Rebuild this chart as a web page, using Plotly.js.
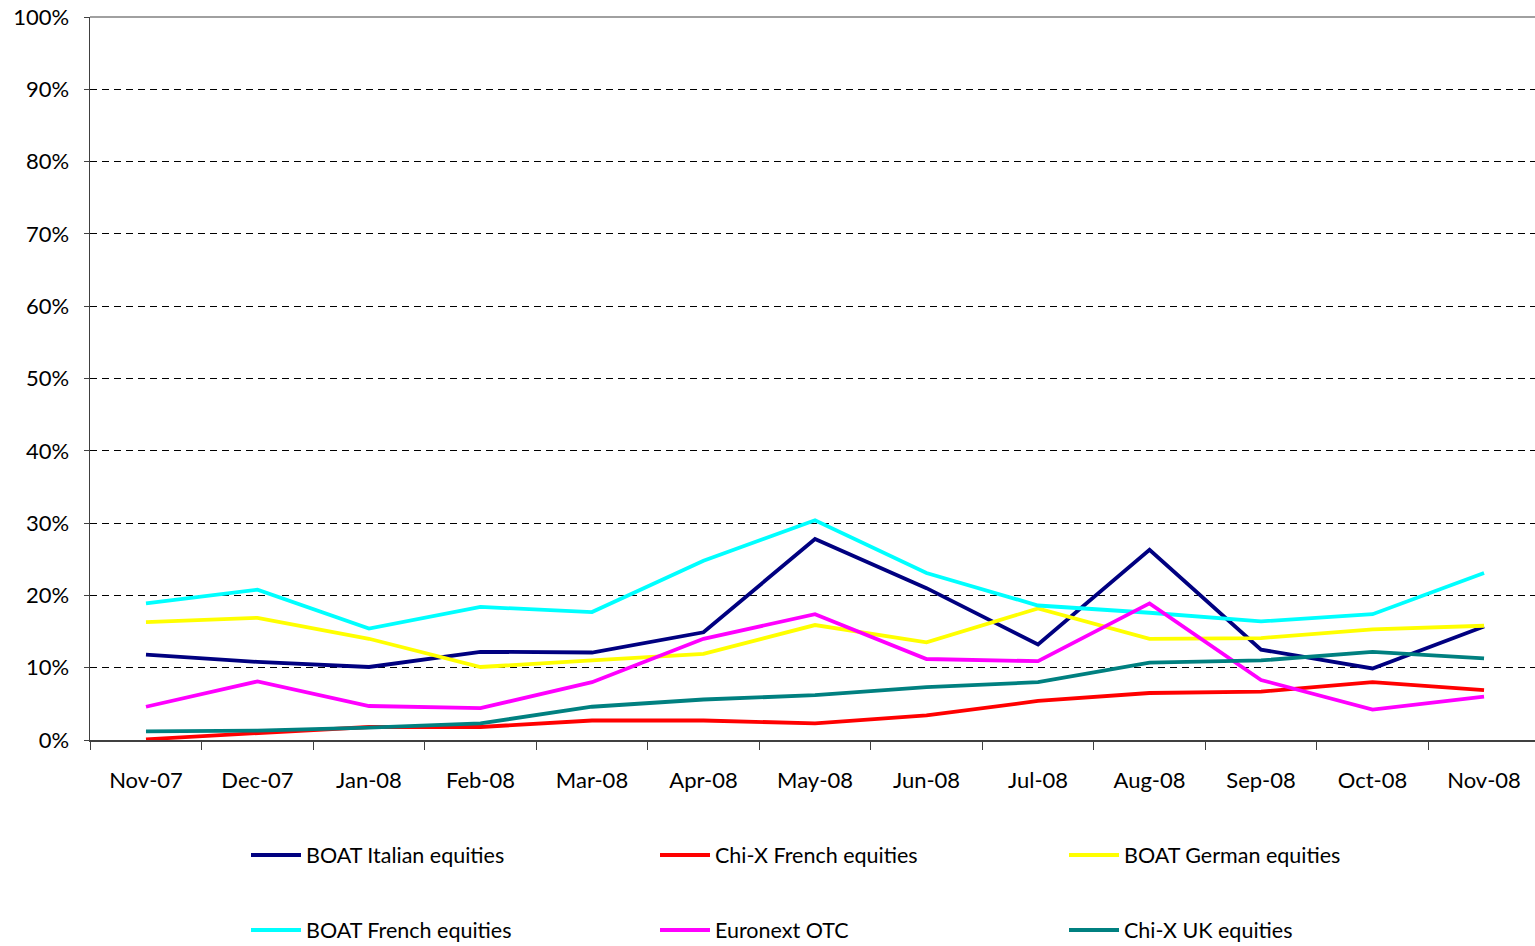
<!DOCTYPE html>
<html>
<head>
<meta charset="utf-8">
<script src="https://cdn.plot.ly/plotly-3.0.1.min.js"></script>
<style>html,body{margin:0;padding:0;background:#fff;}#chart{width:1535px;height:946px;}</style>
</head>
<body>
<div id="chart"></div>
<script>
const months = ["Nov-07","Dec-07","Jan-08","Feb-08","Mar-08","Apr-08","May-08","Jun-08","Jul-08","Aug-08","Sep-08","Oct-08","Nov-08"];
const boatItalian = [0.118,0.108,0.101,0.122,0.121,0.149,0.278,0.210,0.132,0.263,0.125,0.099,0.157];
const chixFrench  = [0.001,0.009,0.018,0.018,0.027,0.027,0.023,0.034,0.054,0.065,0.067,0.080,0.069];
const boatGerman  = [0.163,0.169,0.140,0.101,0.110,0.119,0.159,0.135,0.182,0.140,0.141,0.153,0.158];
const boatFrench  = [0.189,0.208,0.154,0.184,0.177,0.248,0.304,0.231,0.186,0.176,0.164,0.174,0.231];
const euronextOTC = [0.046,0.081,0.047,0.044,0.080,0.140,0.174,0.112,0.109,0.189,0.083,0.042,0.060];
const chixUK      = [0.012,0.013,0.017,0.023,0.046,0.056,0.062,0.073,0.080,0.107,0.110,0.122,0.113];

const seriesNames = ["BOAT Italian equities","Chi-X French equities","BOAT German equities","BOAT French equities","Euronext OTC","Chi-X UK equities"];
const seriesValues = [boatItalian, chixFrench, boatGerman, boatFrench, euronextOTC, chixUK];
const colors = ["#000080","#FF0000","#FFFF00","#00FFFF","#FF00FF","#008080"];
const legendIds = ["legend","legend2","legend3","legend4","legend5","legend6"];
// legend slots: column (0..2) and row (0..1)
const legendCol = [0,1,2,0,1,2];
const legendRow = [0,0,0,1,1,1];

const traces = seriesNames.map((n,i)=>({
  type:"scatter", mode:"lines", name:n, x:months, y:seriesValues[i],
  line:{color:colors[i], width:3.8}, legend:legendIds[i], hoverinfo:"skip"
}));

const tickFont = {family:"Lato, 'Open Sans', sans-serif", size:22, color:"#000"};
const legFont = {family:"Lato, 'Open Sans', sans-serif", size:21.5, color:"#000"};

const layout = {
  width:1535, height:946,
  margin:{l:90, r:0, t:17, b:206},
  paper_bgcolor:"#fff", plot_bgcolor:"#fff",
  font:tickFont,
  showlegend:true,
  xaxis:{type:"category", range:[-0.502,12.457], showline:true, linecolor:"#404040", linewidth:1.5,
    ticks:"outside", tickson:"boundaries", ticklen:8, tickcolor:"#404040",
    showgrid:false, zeroline:false, tickfont:tickFont, ticklabelstandoff:20, fixedrange:true},
  yaxis:{range:[0,1], tickvals:[0,0.1,0.2,0.3,0.4,0.5,0.6,0.7,0.8,0.9,1],
    tickformat:".0%", showline:true, linecolor:"#404040", linewidth:1.5,
    ticks:"outside", ticklen:5, tickcolor:"#404040",
    showgrid:true, gridcolor:"#000", gridwidth:1, griddash:"7px,5px",
    zeroline:false, tickfont:tickFont, ticklabelstandoff:10, fixedrange:true},
  shapes:[{type:"line", xref:"paper", yref:"paper", x0:0, x1:1, y0:1, y1:1,
    line:{color:"#808080", width:1.5}}]
};

const colX = [246, 655, 1064];
const rowY = [855, 930];
legendIds.forEach((id,i)=>{
  layout[id] = {xref:"container", yref:"container", xanchor:"left", yanchor:"middle",
    x: colX[legendCol[i]]/1535, y:(946-rowY[legendRow[i]])/946,
    orientation:"h", font:legFont, bgcolor:"rgba(0,0,0,0)", itemwidth:50};
});

Plotly.newPlot("chart", traces, layout, {staticPlot:true, displayModeBar:false});
</script>
</body>
</html>
